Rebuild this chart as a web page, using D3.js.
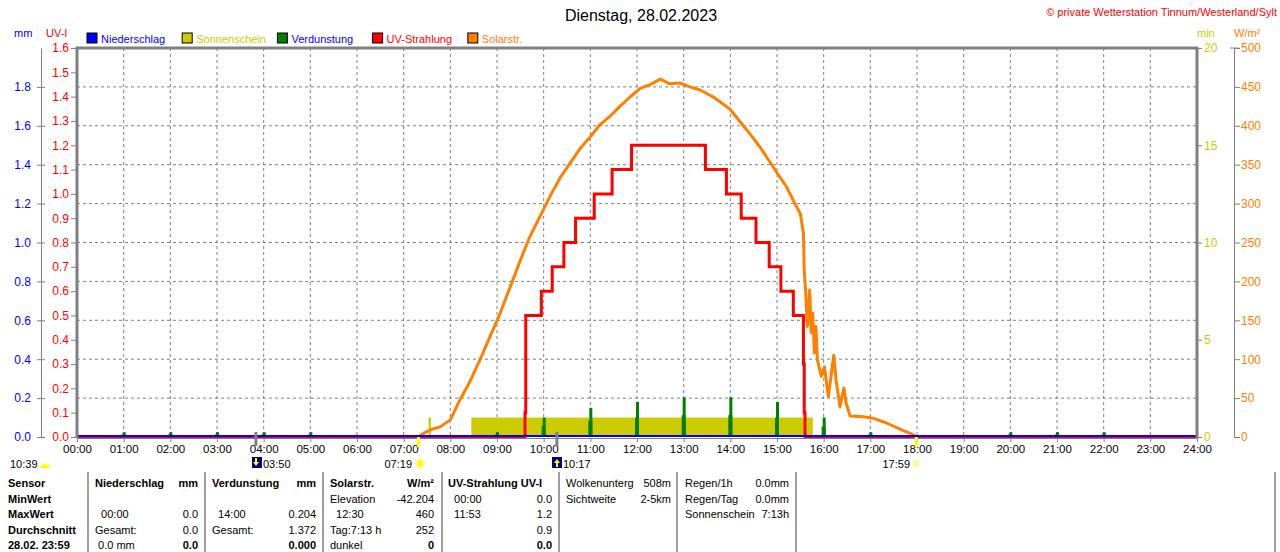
<!DOCTYPE html>
<html lang="de">
<head>
<meta charset="UTF-8">
<title>Dienstag, 28.02.2023</title>
<script src="https://d3js.org/d3.v7.min.js"></script>
<style>
    body { margin: 0; background: #fff; }
    svg { font-family: "Liberation Sans", Arial, sans-serif; font-size: 12px; }
    .grid line { stroke: #808080; stroke-dasharray: 3,3; }
    .small { font-size: 11px; }
</style>
</head>
<body>
<svg id="chart" width="1280" height="552"></svg>
<script>
// ---- data ----
const hourTicks = d3.range(0, 25);
const mmTicks = [0, 0.2, 0.4, 0.6, 0.8, 1.0, 1.2, 1.4, 1.6, 1.8];
const uvTicks = d3.range(0, 17).map(d => d / 10);
const minTicks = [0, 5, 10, 15, 20];
const wTicks = d3.range(0, 501, 50);

// UV index, step after each time
const uvSteps = [
    ["00:00", 0], ["09:36", 0.1], ["09:37", 0.5], ["09:57", 0.6], ["10:11", 0.7],
    ["10:26", 0.8], ["10:41", 0.9], ["11:05", 1.0], ["11:28", 1.1], ["11:53", 1.2],
    ["13:28", 1.1], ["13:55", 1.0], ["14:14", 0.9], ["14:33", 0.8], ["14:50", 0.7],
    ["15:05", 0.6], ["15:21", 0.5], ["15:34", 0.3], ["15:35", 0.1], ["15:36", 0], ["24:00", 0]
];

// solar radiation W/m2
const solar = [
    ["07:19", 0], ["07:23", 3], ["07:30", 7], ["07:36", 10], ["07:47", 13], ["08:00", 22],
    ["08:12", 47], ["08:25", 71], ["08:38", 99], ["08:51", 129], ["09:04", 159],
    ["09:17", 193], ["09:30", 227], ["09:42", 257], ["09:55", 283], ["10:08", 309],
    ["10:21", 333], ["10:34", 352], ["10:47", 371], ["11:00", 386], ["11:12", 401],
    ["11:25", 412], ["11:38", 425], ["11:51", 437], ["12:04", 448], ["12:17", 453],
    ["12:30", 460], ["12:42", 454], ["12:55", 455], ["13:08", 450], ["13:21", 446],
    ["13:38", 437], ["13:59", 422], ["14:21", 395], ["14:38", 373], ["14:55", 347],
    ["15:12", 322], ["15:23", 300], ["15:30", 287], ["15:34", 262], ["15:35", 215],
    ["15:37", 185], ["15:39", 142], ["15:42", 189], ["15:44", 134], ["15:46", 159],
    ["15:48", 108], ["15:50", 142], ["15:52", 99], ["15:57", 78], ["16:01", 90],
    ["16:06", 52], ["16:10", 82], ["16:13", 105], ["16:16", 73], ["16:21", 39],
    ["16:26", 63], ["16:29", 43], ["16:34", 27], ["16:51", 26], ["17:04", 24],
    ["17:21", 18], ["17:38", 10], ["17:55", 3], ["18:00", 0]
];

// sunshine minutes per minute
const sunshine = [
    ["07:32", "07:35", 1],
    ["08:27", "15:46", 1]
];

// evaporation mm per hour
const evaporation = [
    ["01:00", 0.025], ["02:00", 0.025], ["03:00", 0.025], ["04:00", 0.025], ["05:00", 0.025],
    ["09:00", 0.025], ["10:00", 0.10], ["11:00", 0.15], ["12:00", 0.18], ["13:00", 0.204],
    ["14:00", 0.204], ["15:00", 0.18], ["16:00", 0.10], ["17:00", 0.025],
    ["20:00", 0.025], ["21:00", 0.025], ["22:00", 0.025]
];

// precipitation (none)
const rain = [["00:00", 0], ["24:00", 0]];

const legendItems = [
    ["Niederschlag", "#0000ff", "#0000ff"],
    ["Sonnenschein", "#cccc00", "#cccc00"],
    ["Verdunstung", "#008000", "#0000ff"],
    ["UV-Strahlung", "#ff0000", "#ff0000"],
    ["Solarstr.", "#ff8000", "#ff8000"]
];

const tableCols = [
    { x0: 8, x1: 0, rows: [["Sensor", "", true], ["MinWert", "", true], ["MaxWert", "", true], ["Durchschnitt", "", true], ["28.02. 23:59", "", true]] },
    { x0: 95, x1: 198, rows: [["Niederschlag", "mm", true], ["", ""], ["  00:00", "0.0"], ["Gesamt:", "0.0"], [" 0.0 mm", "0.0", false, true]] },
    { x0: 212, x1: 316, rows: [["Verdunstung", "mm", true], ["", ""], ["  14:00", "0.204"], ["Gesamt:", "1.372"], ["", "0.000", false, true]] },
    { x0: 330, x1: 434, rows: [["Solarstr.", "W/m²", true], ["Elevation", "-42.204"], ["  12:30", "460"], ["Tag:7:13 h", "252"], ["dunkel", "0", false, true]] },
    { x0: 448, x1: 552, rows: [["UV-Strahlung UV-I", "", true], ["  00:00", "0.0"], ["  11:53", "1.2"], ["", "0.9"], ["", "0.0", false, true]] },
    { x0: 566, x1: 671, rows: [["Wolkenunterg", "508m"], ["Sichtweite", "2-5km"]] },
    { x0: 685, x1: 789, rows: [["Regen/1h", "0.0mm"], ["Regen/Tag", "0.0mm"], ["Sonnenschein", "7:13h"]] }
];
const tableSeps = [88, 205, 323, 442, 559, 677, 796, 1275];

// ---- layout ----
const svg = d3.select("#chart");
const L = 77, R = 1197, T = 48, B = 437;
const gray = "#808080";

const toH = s => { const [h, m] = s.split(":").map(Number); return h + m / 60; };

const x = d3.scaleLinear().domain([0, 24]).range([L, R]);
const yMm = d3.scaleLinear().domain([0, 2]).range([B, T]);
const yUv = d3.scaleLinear().domain([0, 1.6]).range([B, T]);
const yMin = d3.scaleLinear().domain([0, 20]).range([B, T]);
const yW = d3.scaleLinear().domain([0, 500]).range([B, T]);

// grid
const grid = svg.append("g").attr("class", "grid");
grid.selectAll(".h").data(wTicks.slice(1, -1)).enter().append("line")
    .attr("x1", L).attr("x2", R).attr("y1", d => yW(d)).attr("y2", d => yW(d));
grid.selectAll(".v").data(hourTicks.slice(1, -1)).enter().append("line")
    .attr("x1", d => x(d)).attr("x2", d => x(d)).attr("y1", T).attr("y2", B);

// sunshine bars
svg.append("g").selectAll("rect").data(sunshine).enter().append("rect")
    .attr("x", d => x(toH(d[0])))
    .attr("width", d => x(toH(d[1])) - x(toH(d[0])))
    .attr("y", d => yMin(d[2]))
    .attr("height", d => B - yMin(d[2]))
    .attr("fill", "#cccc00");

// evaporation spikes
const evap = svg.append("g").attr("fill", "#008000");
evap.selectAll(".lo").data(evaporation).enter().append("rect")
    .attr("x", d => x(toH(d[0])) - 2).attr("width", 4)
    .attr("y", d => yMm(d[1] * 0.55)).attr("height", d => B - yMm(d[1] * 0.55));
evap.selectAll(".hi").data(evaporation).enter().append("rect")
    .attr("x", d => x(toH(d[0])) - 1).attr("width", 3)
    .attr("y", d => yMm(d[1])).attr("height", d => B - yMm(d[1]));

// solar radiation
svg.append("path").datum(solar)
    .attr("fill", "none").attr("stroke", "#ff8000").attr("stroke-width", 3)
    .attr("stroke-linejoin", "round")
    .attr("d", d3.line().x(d => x(toH(d[0]))).y(d => yW(d[1])));

// UV
svg.append("path").datum(uvSteps)
    .attr("fill", "none").attr("stroke", "#ff0000").attr("stroke-width", 3)
    .attr("d", d3.line().curve(d3.curveStepAfter).x(d => x(toH(d[0]))).y(d => yUv(d[1])));

// precipitation
svg.append("path").datum(rain)
    .attr("fill", "none").attr("stroke", "#0000ff").attr("stroke-width", 2)
    .attr("d", d3.line().x(d => x(toH(d[0]))).y(d => yMm(d[1]) - 1));

// frame
svg.append("path")
    .attr("d", `M${L},${B + 1}V${T}H${R}V${B + 1}`)
    .attr("fill", "none").attr("stroke", gray).attr("stroke-width", 3);
svg.append("line").attr("x1", L).attr("x2", R).attr("y1", B + 1.5).attr("y2", B + 1.5)
    .attr("stroke", gray).attr("stroke-width", 1);

function styleAxis(g, color) {
    g.select(".domain").attr("stroke", gray);
    g.selectAll(".tick line").attr("stroke", gray);
    g.selectAll(".tick text").attr("fill", color)
        .style("font-family", '"Liberation Sans", Arial, sans-serif').style("font-size", "12px");
}

// x axis
svg.append("g").attr("transform", `translate(0,${B + 1})`)
    .call(d3.axisBottom(x).tickValues(hourTicks).tickSize(4).tickPadding(3)
        .tickFormat(d => d3.format("02d")(d) + ":00"))
    .call(g => g.select(".domain").remove())
    .call(g => styleAxis(g, "#000"))
    .call(g => g.selectAll(".tick text").style("font-size", "11.5px"));

// UV axis
svg.append("g").attr("transform", `translate(${L - 1},0)`)
    .call(d3.axisLeft(yUv).tickValues(uvTicks).tickSize(5).tickPadding(2).tickFormat(d3.format(".1f")))
    .call(g => g.select(".domain").remove())
    .call(g => styleAxis(g, "#ff0000"));

// mm axis
svg.append("g").attr("transform", `translate(41,0)`)
    .call(d3.axisLeft(yMm).tickValues(mmTicks).tickSizeInner(-4).tickSizeOuter(0).tickPadding(10).tickFormat(d3.format(".1f")))
    .call(g => g.selectAll(".tick line").attr("x1", -4))
    .call(g => styleAxis(g, "#0000ff"));

// min axis
svg.append("g").attr("transform", `translate(${R + 1},0)`)
    .call(d3.axisRight(yMin).tickValues(minTicks).tickSize(4).tickPadding(2))
    .call(g => g.select(".domain").remove())
    .call(g => styleAxis(g, "#cccc00"));

// W/m2 axis
svg.append("g").attr("transform", `translate(1234,0)`)
    .call(d3.axisRight(yW).tickValues(wTicks).tickSizeInner(6).tickSizeOuter(0).tickPadding(1))
    .call(g => g.append("line").attr("x1", -4).attr("x2", 5).attr("y1", T).attr("y2", T).attr("stroke", gray))
    .call(g => styleAxis(g, "#ff8000"));

// axis captions
const cap = [["mm", 14, "#0000ff"], ["UV-I", 46, "#ff0000"], ["min", 1197, "#cccc00"], ["W/m²", 1234, "#ff8000"]];
svg.selectAll(".cap").data(cap).enter().append("text").attr("class", "small")
    .attr("x", d => d[1]).attr("y", 37).attr("fill", d => d[2]).text(d => d[0]);

// title
svg.append("text").attr("x", 641).attr("y", 21).attr("text-anchor", "middle")
    .style("font-size", "16px").text("Dienstag, 28.02.2023");
svg.append("text").attr("x", 1277).attr("y", 16).attr("text-anchor", "end")
    .attr("fill", "#ff0000").style("font-size", "11px")
    .text("© private Wetterstation Tinnum/Westerland/Sylt");

// legend
const lg = svg.selectAll(".lg").data(legendItems).enter().append("g")
    .attr("transform", (d, i) => `translate(${87 + i * 95.2},33)`);
lg.append("rect").attr("width", 10).attr("height", 10)
    .attr("fill", d => d[1]).attr("stroke", "#000");
lg.append("text").attr("class", "small").attr("x", 14).attr("y", 9.5).attr("fill", d => d[2]).text(d => d[0]);

// sun/moon markers under the axis
const mk = svg.append("g").attr("class", "small");
[[toH("07:19"), "#ffff00"], [toH("17:59"), "#ffff00"]].forEach(([h, c]) =>
    mk.append("line").attr("x1", x(h)).attr("x2", x(h)).attr("y1", B).attr("y2", B + 10)
        .attr("stroke", c).attr("stroke-width", 3));
[toH("03:50"), toH("10:17")].forEach(h =>
    mk.append("line").attr("x1", x(h)).attr("x2", x(h)).attr("y1", B - 5).attr("y2", B + 9)
        .attr("stroke", gray).attr("stroke-width", 3));

const iy = 468;
mk.append("text").attr("x", 10).attr("y", iy).text("10:39");
mk.append("path").attr("d", "M40,468 a5,4 0 0 1 10,0 z").attr("fill", "#ffff00");
function moon(px, up) {
    mk.append("rect").attr("x", px).attr("y", 457).attr("width", 10).attr("height", 11).attr("fill", "#000080");
    mk.append("path").attr("d", up ? `M${px + 5},459 l3,4 h-2 v4 h-2 v-4 h-2 z` : `M${px + 4},466 l3,-4 h-2 v-4 h-2 v4 h-2 z`)
        .attr("fill", "#ffff00");
}
moon(252, false);
mk.append("text").attr("x", 263).attr("y", iy).text("03:50");
mk.append("text").attr("x", 412).attr("y", iy).attr("text-anchor", "end").text("07:19");
mk.append("circle").attr("cx", 420).attr("cy", 463.5).attr("r", 3.5).attr("fill", "#ffff00");
d3.range(8).forEach(i => {
    const a = i * Math.PI / 4;
    mk.append("line").attr("x1", 420 + Math.cos(a) * 4.5).attr("y1", 463.5 + Math.sin(a) * 4.5)
        .attr("x2", 420 + Math.cos(a) * 6).attr("y2", 463.5 + Math.sin(a) * 6)
        .attr("stroke", "#ffff00");
});
moon(552, true);
mk.append("text").attr("x", 563).attr("y", iy).text("10:17");
mk.append("text").attr("x", 910).attr("y", iy).attr("text-anchor", "end").text("17:59");
mk.append("rect").attr("x", 914).attr("y", 461).attr("width", 4).attr("height", 4)
    .attr("fill", "none").attr("stroke", "#ffff00");

// table
const tb = svg.append("g").attr("class", "small");
tableSeps.forEach(sx => tb.append("line").attr("x1", sx).attr("x2", sx).attr("y1", 472).attr("y2", 552)
    .attr("stroke", gray).attr("stroke-width", 1.5));
tableCols.forEach(col => {
    col.rows.forEach((r, i) => {
        const y = 487 + i * 15.5;
        if (r[0]) tb.append("text").attr("x", col.x0).attr("y", y).attr("xml:space", "preserve")
            .style("font-weight", r[2] ? "bold" : "normal").text(r[0]);
        if (r[1]) tb.append("text").attr("x", col.x1).attr("y", y).attr("text-anchor", "end")
            .style("font-weight", r[2] || r[3] ? "bold" : "normal").text(r[1]);
    });
});
</script>
</body>
</html>
